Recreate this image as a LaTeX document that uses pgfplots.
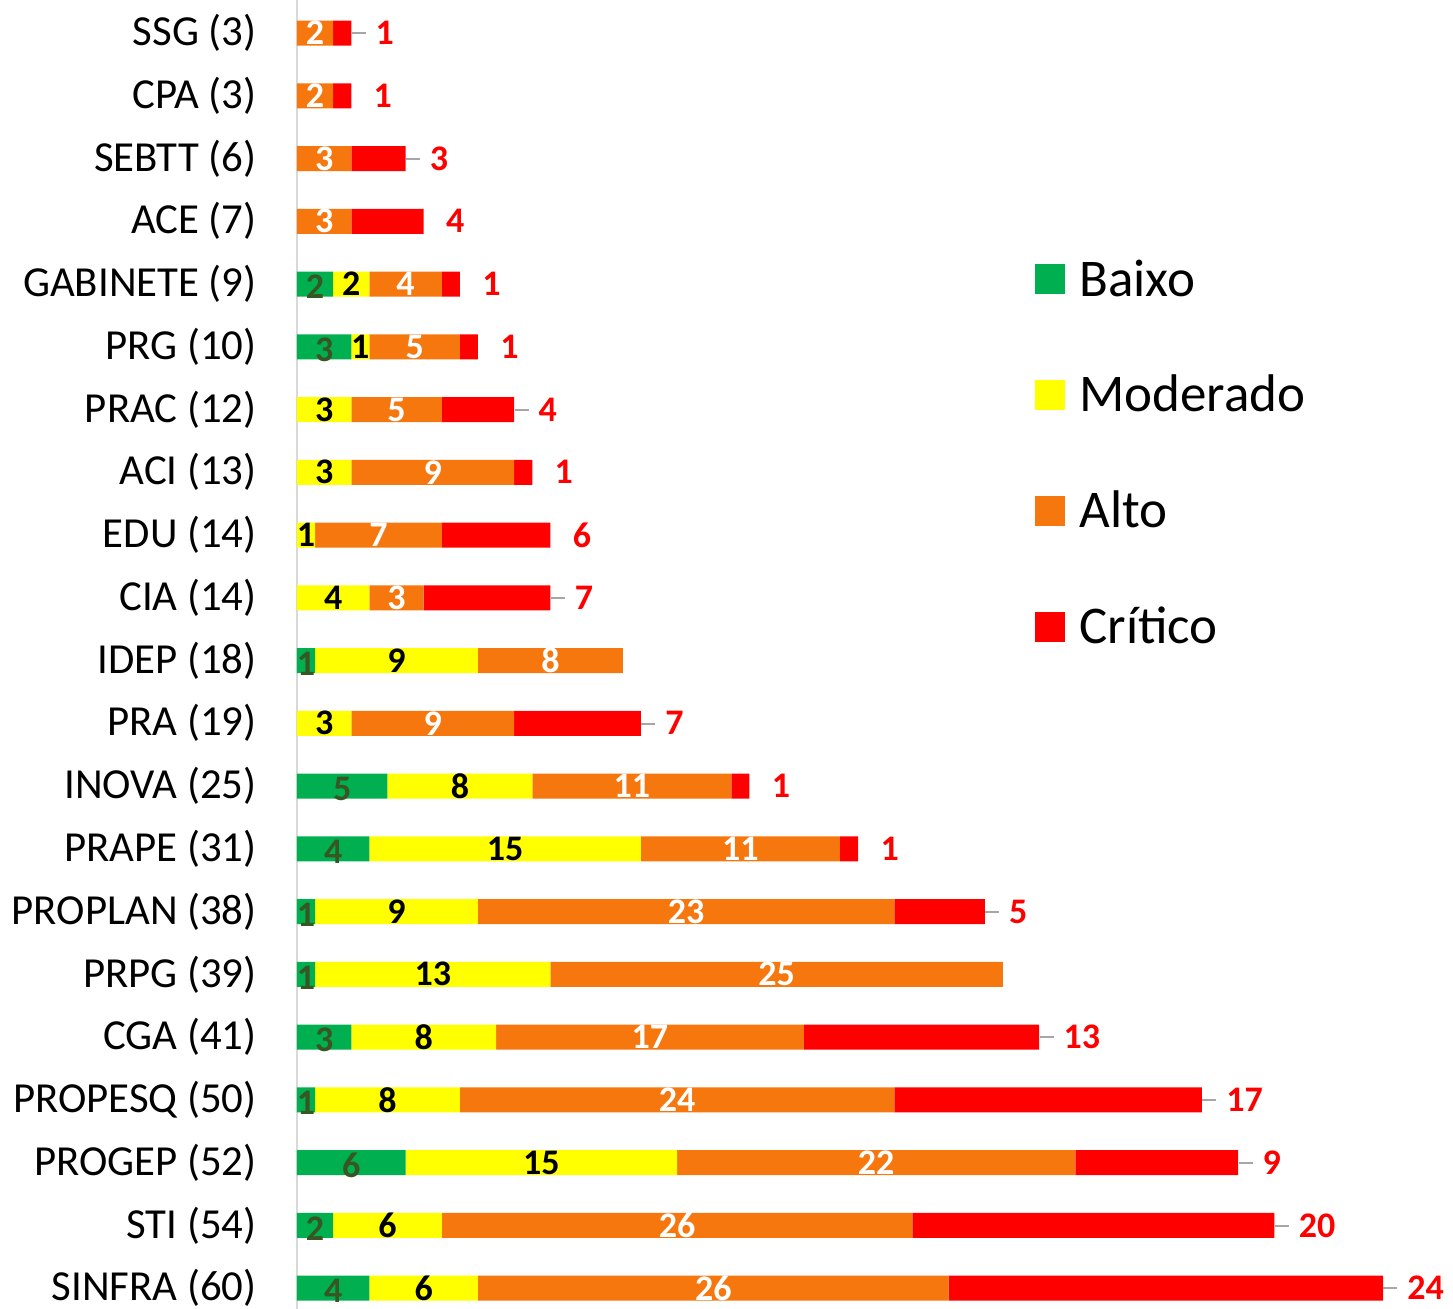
\documentclass[border=0pt]{standalone}
\usepackage{fontspec}
\setmainfont{Carlito}
\usepackage{pgfplots}
\usepackage{pgfplotstable}
\pgfplotsset{compat=1.18}

\definecolor{baixo}{HTML}{00B050}
\definecolor{moderado}{HTML}{FFFF00}
\definecolor{alto}{HTML}{F7770F}
\definecolor{critico}{HTML}{FF0000}
\definecolor{baixotxt}{HTML}{375623}
\definecolor{eixo}{HTML}{D9D9D9}
\definecolor{guia}{HTML}{A6A6A6}

% b = Baixo, m = Moderado, a = Alto, c = Critico, l = label with leader line
\pgfplotstableread{
name b m a c l
SSG 0 0 2 1 1
CPA 0 0 2 1 0
SEBTT 0 0 3 3 1
ACE 0 0 3 4 0
GABINETE 2 2 4 1 0
PRG 3 1 5 1 0
PRAC 0 3 5 4 1
ACI 0 3 9 1 0
EDU 0 1 7 6 0
CIA 0 4 3 7 1
IDEP 1 9 8 0 0
PRA 0 3 9 7 1
INOVA 5 8 11 1 0
PRAPE 4 15 11 1 0
PROPLAN 1 9 23 5 1
PRPG 1 13 25 0 0
CGA 3 8 17 13 1
PROPESQ 1 8 24 17 1
PROGEP 6 15 22 9 1
STI 2 6 26 20 1
SINFRA 4 6 26 24 1
}\riscos

\pgfplotsset{
  base/.style={
    scale only axis,
    width=543pt, height=654.4pt,
    xmin=0, xmax=60,
    ymin=-0.526, ymax=20.33,
    y dir=reverse,
  },
  rotulo/.style={
    draw=none, mark=none,
    nodes near coords,
    point meta=explicit,
    nodes near coords style={font=\bfseries\fontsize{18}{20}\selectfont,
      anchor=center, inner sep=0pt, text=#1},
  },
}

\begin{document}
\begin{tikzpicture}
\begin{axis}[base,
  name=main,
  xbar stacked,
  bar width=12.5pt,
  axis x line=none,
  axis y line*=left,
  y axis line style={-, draw=eixo, line width=1.2pt},
  ytick={0,...,20},
  yticklabels={{SSG (3)},{CPA (3)},{SEBTT (6)},{ACE (7)},{GABINETE (9)},
    {PRG (10)},{PRAC (12)},{ACI (13)},{EDU (14)},{CIA (14)},{IDEP (18)},
    {PRA (19)},{INOVA (25)},{PRAPE (31)},{PROPLAN (38)},{PRPG (39)},
    {CGA (41)},{PROPESQ (50)},{PROGEP (52)},{STI (54)},{SINFRA (60)}},
  major tick length=0pt,
  yticklabel style={font=\fontsize{21.4}{25}\selectfont, inner sep=0pt, xshift=-20pt},
  legend style={draw=none, fill=none, at={(0.6796,0.805)}, anchor=north west,
    font=\fontsize{26.5}{31}\selectfont, row sep=34pt, inner sep=0pt,
    cells={anchor=west}},
  legend image code/.code={\draw[#1, draw=none] (0pt,-7.5pt) rectangle (15pt,7.5pt);
    \path (20pt,0pt);},
]
\addplot[fill=baixo, draw=none] table[x=b, y expr=\coordindex]{\riscos};
\addlegendentry{Baixo}
\addplot[fill=moderado, draw=none] table[x=m, y expr=\coordindex]{\riscos};
\addlegendentry{Moderado}
\addplot[fill=alto, draw=none] table[x=a, y expr=\coordindex]{\riscos};
\addlegendentry{Alto}
\addplot[fill=critico, draw=none] table[x=c, y expr=\coordindex]{\riscos};
\addlegendentry{Crítico}
\end{axis}

\begin{axis}[base, hide axis, /pgf/number format/assume math mode=true]
\addplot[rotulo=baixotxt, restrict expr to domain={\thisrow{b}}{0.5:100},
  nodes near coords style={yshift=-1.5pt}]
  table[x expr=\thisrow{b}/2, y expr=\coordindex, meta=b]{\riscos};
\addplot[rotulo=black, restrict expr to domain={\thisrow{m}}{0.5:100}]
  table[x expr=\thisrow{b}+\thisrow{m}/2, y expr=\coordindex, meta=m]{\riscos};
\addplot[rotulo=white, restrict expr to domain={\thisrow{a}}{0.5:100}]
  table[x expr=\thisrow{b}+\thisrow{m}+\thisrow{a}/2, y expr=\coordindex, meta=a]{\riscos};
% Critico labels without leader line
\addplot[rotulo=critico, restrict expr to domain={\thisrow{c}*(1-\thisrow{l})}{0.5:100},
  nodes near coords style={anchor=west, xshift=11pt}]
  table[x expr=\thisrow{b}+\thisrow{m}+\thisrow{a}+\thisrow{c}, y expr=\coordindex, meta=c]{\riscos};
% Critico labels with leader line
\addplot[rotulo=critico, restrict expr to domain={\thisrow{c}*\thisrow{l}}{0.5:100},
  nodes near coords={\textcolor{guia}{\rule[5.2pt]{7pt}{1pt}}\hspace{5pt}\pgfmathprintnumber{\pgfplotspointmeta}},
  nodes near coords style={anchor=west, xshift=0pt}]
  table[x expr=\thisrow{b}+\thisrow{m}+\thisrow{a}+\thisrow{c}, y expr=\coordindex, meta=c]{\riscos};
\end{axis}

\pgfresetboundingbox
\path ([xshift=-148.5pt]main.south west) rectangle ([xshift=35pt]main.north east);
\end{tikzpicture}
\end{document}
